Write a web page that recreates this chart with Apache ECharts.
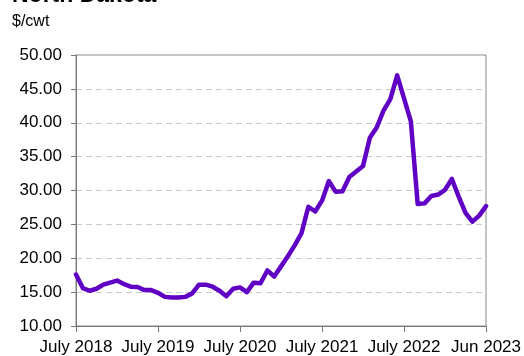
<!DOCTYPE html>
<html>
<head>
<meta charset="utf-8">
<script src="https://cdn.jsdelivr.net/npm/echarts@6/dist/echarts.min.js"></script>
<style>html,body{margin:0;padding:0;background:#fff;}#c{width:524px;height:356px;}</style>
</head>
<body>
<div id="c"></div>
<script>
var monthIndex = [];
for (var k = 0; k <= 60; k++) monthIndex.push(k);
var prices = [
  17.6, 15.6, 15.2, 15.5, 16.1, 16.4, 16.7, 16.2, 15.8, 15.75,
  15.3, 15.3, 14.9, 14.3, 14.2, 14.2, 14.3, 14.8, 16.1, 16.1,
  15.8, 15.2, 14.4, 15.5, 15.7, 15.0, 16.4, 16.3, 18.2, 17.3,
  18.8, 20.3, 21.9, 23.7, 27.6, 26.9, 28.5, 31.4, 29.8, 29.9,
  32.0, 32.8, 33.6, 37.8, 39.3, 41.8, 43.5, 47.0, 43.6, 40.2,
  28.0, 28.1, 29.2, 29.4, 30.1, 31.7, 29.1, 26.7, 25.4, 26.3,
  27.7
];
var tickPositions = [0, 12, 24, 36, 48, 60];
var tickLabels = ['July 2018', 'July 2019', 'July 2020', 'July 2021', 'July 2022', 'Jun 2023'];
var yTicks = [10, 15, 20, 25, 30, 35, 40, 45, 50];

var seriesData = monthIndex.map(function (m, i) { return [m, prices[i]]; });
var font = '"Liberation Sans", Arial, sans-serif';

var chart = echarts.init(document.getElementById('c'), null, {renderer: 'canvas'});
chart.setOption({
  animation: false,
  backgroundColor: '#fff',
  graphic: [
    {type: 'text', x: 12, y: -16, z: 10, style: {text: 'North Dakota', font: 'bold 23px ' + font, fill: '#000', textVerticalAlign: 'top'}},
    {type: 'text', x: 12, y: 14, style: {text: '$/cwt', font: '16px ' + font, fill: '#000'}}
  ],
  grid: {left: 76, right: 36, top: 55, bottom: 28, show: true, borderColor: '#888', borderWidth: 1},
  xAxis: {
    type: 'value', min: 0, max: 60, interval: 12,
    axisLine: {show: true, lineStyle: {color: '#777', width: 1}},
    axisTick: {show: true, length: 6, inside: false, lineStyle: {color: '#777'}},
    splitLine: {show: false},
    axisLabel: {
      margin: 13, color: '#000', fontSize: 17, fontFamily: font,
      formatter: function (v) { var j = tickPositions.indexOf(v); return j >= 0 ? tickLabels[j] : ''; }
    }
  },
  yAxis: {
    type: 'value', min: yTicks[0], max: yTicks[yTicks.length - 1], interval: 5,
    axisLine: {show: true, lineStyle: {color: '#777', width: 1}},
    axisTick: {show: true, length: 5, lineStyle: {color: '#777'}},
    splitLine: {show: true, lineStyle: {color: '#c8c8c8', type: [6, 4], width: 1}},
    axisLabel: {margin: 14, color: '#000', fontSize: 17, fontFamily: font,
      formatter: function (v) { return v.toFixed(2); }}
  },
  series: [{
    type: 'line', data: seriesData, showSymbol: false, symbol: 'none',
    lineStyle: {color: '#6000c4', width: 4.5, join: 'round', cap: 'round'}
  }]
});
</script>
</body>
</html>
